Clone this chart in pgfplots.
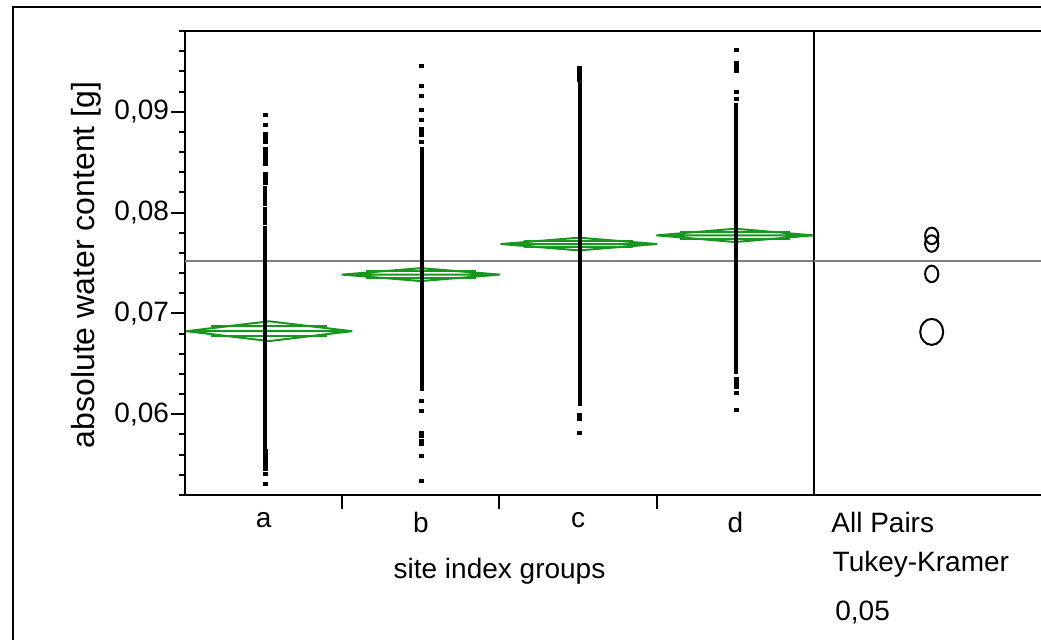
\documentclass[border=0pt]{standalone}
\usepackage{fontspec}
\setmainfont{Liberation Sans}
\usepackage{pgfplots}
\pgfplotsset{compat=1.18}
\definecolor{jgreen}{RGB}{24,150,32}
\definecolor{jgrey}{RGB}{128,128,128}
\newcommand{\fs}{\fontsize{14}{16}\selectfont}
\newcommand{\fl}{\fontsize{16}{18}\selectfont}
\begin{document}
\begin{tikzpicture}
\useasboundingbox (0,0) rectangle (520.5pt,-320pt);
\clip (0,0) rectangle (520.5pt,-320pt);
\draw[line width=1pt] (6.5pt,-340pt) -- (6.5pt,-3.5pt) -- (540pt,-3.5pt);

\begin{axis}[
  scale only axis, width=314.5pt, height=232pt,
  at={(92.5pt,-247.5pt)}, anchor=south west,
  xmin=0, xmax=4, ymin=0.052, ymax=0.098,
  axis line style={line width=1pt},
  tick pos=left, tick align=outside,
  tick style={line width=1pt, black},
  major tick length=7pt, minor tick length=3pt,
  xtick={1,2,3}, xticklabels={},
  extra x ticks={0.5,1.5,2.5,3.5}, extra x tick labels={a,b,c,d},
  extra x tick style={major tick length=0pt, tick style={draw=none}, xticklabel style={yshift=-5pt}},
  xticklabel style={font=\fs},
  ytick={0.06,0.07,0.08,0.09},
  minor ytick={0.052,0.054,0.056,0.058,0.062,0.064,0.066,0.068,0.072,0.074,0.076,0.078,0.082,0.084,0.086,0.088,0.092,0.094,0.096,0.098},
  scaled y ticks=false,
  yticklabel style={font=\fs, xshift=2.5pt, /pgf/number format/.cd, fixed, fixed zerofill, precision=2, use comma, assume math mode=true},
  ylabel={absolute water content [g]},
  every axis y label/.style={at={(axis description cs:-0.1431,0.4957)}, rotate=90, anchor=base, font=\fl},
  xlabel={site index groups},
  every axis x label/.style={at={(axis description cs:0.5,-0.1789)}, anchor=base, font=\fs},
  unbounded coords=jump,
  clip=false,
]
% grand mean
\addplot[jgrey, line width=1pt] coordinates {(0,0.07523) (4,0.07523)};
% means diamonds
\addplot[jgreen, line width=1pt, line join=round] coordinates {(0.01,0.06824) (0.535,0.06922) (1.06,0.06824) (0.535,0.06726) (0.01,0.06824) (1.06,0.06824)};
\addplot[jgreen, line width=1pt] coordinates {(0.1675,0.06873) (0.9025,0.06873) (0.9025,nan) (0.1675,0.06775) (0.9025,0.06775)};
\addplot[jgreen, line width=1pt, line join=round] coordinates {(1.0,0.07385) (1.5,0.07449) (2.0,0.07385) (1.5,0.07321) (1.0,0.07385) (2.0,0.07385)};
\addplot[jgreen, line width=1pt] coordinates {(1.15,0.07417) (1.85,0.07417) (1.85,nan) (1.15,0.07353) (1.85,0.07353)};
\addplot[jgreen, line width=1pt, line join=round] coordinates {(2.01,0.07688) (2.505,0.07751) (3.0,0.07688) (2.505,0.07625) (2.01,0.07688) (3.0,0.07688)};
\addplot[jgreen, line width=1pt] coordinates {(2.158,0.077195) (2.852,0.077195) (2.852,nan) (2.158,0.076565) (2.852,0.076565)};
\addplot[jgreen, line width=1pt, line join=round] coordinates {(3.0,0.07774) (3.4975,0.07840) (3.995,0.07774) (3.4975,0.07708) (3.0,0.07774) (3.995,0.07774)};
\addplot[jgreen, line width=1pt] coordinates {(3.149,0.07807) (3.846,0.07807) (3.846,nan) (3.149,0.07741) (3.846,0.07741)};
% dense runs of observations
\addplot[black, line width=2pt, line cap=butt] coordinates {
 (0.51,0.08267) (0.51,0.08069) (0.51,nan)
 (0.51,0.08060) (0.51,0.07872) (0.51,nan)
 (0.51,0.07863) (0.51,0.05657) (0.51,nan)
 (1.505,0.08651) (1.505,0.06228) (1.505,nan)
 (2.51,0.09291) (2.51,0.06081) (2.51,nan)
 (3.505,0.09084) (3.505,0.06396)};
% individual observations
\addplot[only marks, mark=square*, mark size=0.75pt, mark options={xscale=1.33, draw=none, fill=black}] coordinates {
 (0.51,0.08973) (0.51,0.08869) (0.51,0.08783) (0.51,0.08754) (0.51,0.08725) (0.51,0.08705)
 (0.51,0.08636) (0.51,0.08606) (0.51,0.08557) (0.51,0.08527) (0.51,0.08498) (0.51,0.08478)
 (0.51,0.08380) (0.51,0.08350) (0.51,0.08321) (0.51,0.08291)
 (0.51,0.05633) (0.51,0.05603) (0.51,0.05574) (0.51,0.05544) (0.51,0.05515) (0.51,0.05485)
 (0.51,0.05456) (0.51,0.05406) (0.51,0.05308)
 (1.505,0.09453) (1.505,0.09256) (1.505,0.09158) (1.505,0.09020) (1.505,0.08921)
 (1.505,0.08833) (1.505,0.08803) (1.505,0.08774) (1.505,0.08705)
 (1.505,0.06135) (1.505,0.06036) (1.505,0.05820) (1.505,0.05781) (1.505,0.05741) (1.505,0.05702)
 (1.505,0.05584) (1.505,0.05338)
 (2.51,0.09433) (2.51,0.09404) (2.51,0.09374) (2.51,0.09345) (2.51,0.09315)
 (2.51,0.05997) (2.51,0.05958) (2.51,0.05820)
 (3.505,0.09610) (3.505,0.09482) (3.505,0.09443) (3.505,0.09404) (3.505,0.09197) (3.505,0.09128)
 (3.505,0.06352) (3.505,0.06312) (3.505,0.06273) (3.505,0.06214) (3.505,0.06046)};
\end{axis}

\begin{axis}[
  scale only axis, width=143pt, height=232pt,
  at={(407pt,-247.5pt)}, anchor=south west,
  xmin=0, xmax=286, ymin=0.052, ymax=0.098,
  axis line style={line width=1pt},
  xtick=\empty, ytick=\empty,
  clip=false,
]
\addplot[jgrey, line width=1pt] coordinates {(0,0.07523) (286,0.07523)};
\addplot[only marks, mark=o, mark size=3.3pt, mark options={line width=1pt, yscale=1.25}] coordinates {(117.7,0.07769) (117.7,0.07693) (117.7,0.07392)};
\addplot[only marks, mark=o, mark size=5.75pt, mark options={line width=1pt, yscale=1.13}] coordinates {(117.7,0.06817)};
\node[anchor=base west, inner sep=0pt, font=\fs] at (axis description cs:0.0594,-0.0819) {All Pairs};
\node[anchor=base west, inner sep=0pt, font=\fs] at (axis description cs:0.0640,-0.1650) {Tukey-Kramer};
\node[anchor=base west, inner sep=0pt, font=\fs] at (axis description cs:0.0734,-0.2700) {0,05};
\end{axis}
\end{tikzpicture}
\end{document}
